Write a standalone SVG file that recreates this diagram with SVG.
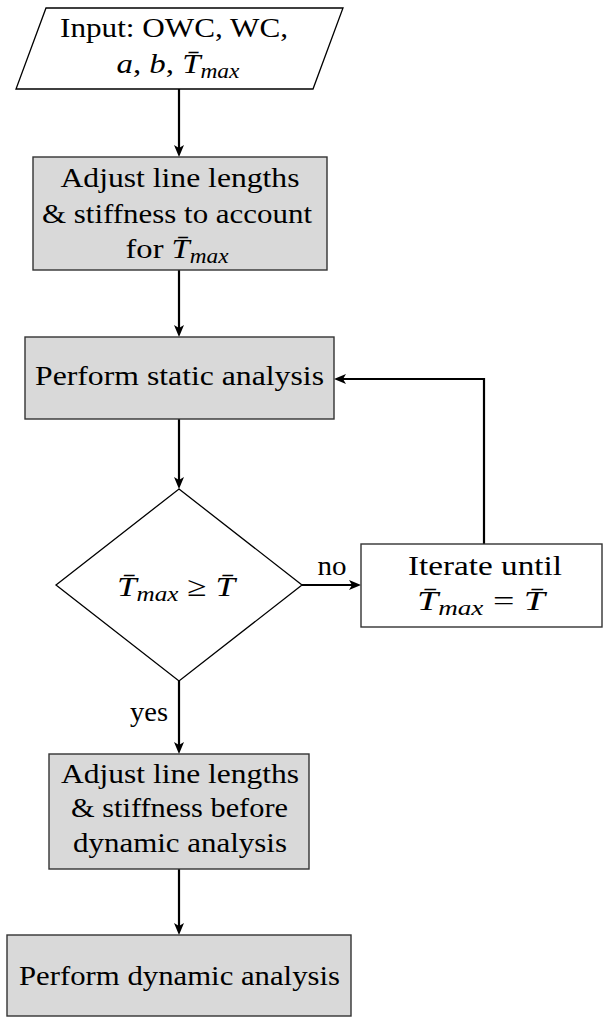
<svg xmlns="http://www.w3.org/2000/svg" width="603" height="1017" viewBox="0 0 603 1017">
<style>
.t{font-family:"Liberation Serif","DejaVu Serif","Times New Roman",serif;font-size:28px;fill:#000}
.i{font-style:italic}
.sub{font-style:italic;font-size:20px}
.box{fill:#d9d9d9;stroke:#333;stroke-width:1.4}
.wbox{fill:#fff;stroke:#333;stroke-width:1.4}
.conn{fill:none;stroke:#000;stroke-width:2.2}
</style>
<defs>
<marker id="ah" viewBox="0 0 12 12" refX="6" refY="6" markerWidth="12" markerHeight="12" markerUnits="userSpaceOnUse" orient="auto">
<path d="M0,1 L12,6 L0,11 L3,6 z" fill="#000"/>
</marker>
</defs>
<rect width="603" height="1017" fill="#fff"/>
<g id="connectors">
<path class="conn" d="M179,89 V151" marker-end="url(#ah)"/>
<path class="conn" d="M179,270 V331" marker-end="url(#ah)"/>
<path class="conn" d="M179,419 V483" marker-end="url(#ah)"/>
<path class="conn" d="M302,585 H355" marker-end="url(#ah)"/>
<path class="conn" d="M484,544 V379 H340" marker-end="url(#ah)"/>
<path class="conn" d="M179,681 V748" marker-end="url(#ah)"/>
<path class="conn" d="M179,869 V929" marker-end="url(#ah)"/>
<text class="t" x="332" y="575" text-anchor="middle" textLength="29" lengthAdjust="spacingAndGlyphs">no</text>
<text class="t" x="168" y="721" text-anchor="end" textLength="38" lengthAdjust="spacingAndGlyphs">yes</text>
</g>
<g id="input">
<polygon points="46,8 343,8 313,89 16,89" fill="#fff" stroke="#000" stroke-width="1.3"/>
<text class="t" x="174" y="37" text-anchor="middle" textLength="228" lengthAdjust="spacingAndGlyphs">Input: OWC, WC,</text>
<text class="t" x="178" y="73" text-anchor="middle" textLength="123" lengthAdjust="spacingAndGlyphs"><tspan class="i">a</tspan>, <tspan class="i">b</tspan>, <tspan class="i">T&#x304;</tspan><tspan class="sub" dy="5">max</tspan></text>
</g>
<g id="adjust1">
<rect class="box" x="33" y="157" width="294" height="113"/>
<text class="t" x="180" y="187" text-anchor="middle" textLength="239" lengthAdjust="spacingAndGlyphs">Adjust line lengths</text>
<text class="t" x="177" y="223" text-anchor="middle" textLength="270" lengthAdjust="spacingAndGlyphs">&amp; stiffness to account</text>
<text class="t" x="177" y="258" text-anchor="middle" textLength="103" lengthAdjust="spacingAndGlyphs">for <tspan class="i">T&#x304;</tspan><tspan class="sub" dy="5">max</tspan></text>
</g>
<g id="static">
<rect class="box" x="25" y="337" width="309" height="82"/>
<text class="t" x="179.5" y="385" text-anchor="middle" textLength="289" lengthAdjust="spacingAndGlyphs">Perform static analysis</text>
</g>
<g id="decision">
<polygon points="179,489 302,585 179,681 56,585" fill="#fff" stroke="#000" stroke-width="1.3"/>
<text class="t" x="176" y="596" text-anchor="middle" textLength="118" lengthAdjust="spacingAndGlyphs"><tspan class="i">T&#x304;</tspan><tspan class="sub" dy="5">max</tspan><tspan dy="-5"> ≥ </tspan><tspan class="i">T&#x304;</tspan></text>
</g>
<g id="iterate">
<rect class="wbox" x="361" y="544" width="241" height="83"/>
<text class="t" x="485" y="575" text-anchor="middle" textLength="154" lengthAdjust="spacingAndGlyphs">Iterate until</text>
<text class="t" x="481" y="610" text-anchor="middle" textLength="128" lengthAdjust="spacingAndGlyphs"><tspan class="i">T&#x304;</tspan><tspan class="sub" dy="5">max</tspan><tspan dy="-5"> = </tspan><tspan class="i">T&#x304;</tspan></text>
</g>
<g id="adjust2">
<rect class="box" x="49" y="754" width="260" height="115"/>
<text class="t" x="180" y="783" text-anchor="middle" textLength="238" lengthAdjust="spacingAndGlyphs">Adjust line lengths</text>
<text class="t" x="179.5" y="817" text-anchor="middle" textLength="217" lengthAdjust="spacingAndGlyphs">&amp; stiffness before</text>
<text class="t" x="180" y="852" text-anchor="middle" textLength="214" lengthAdjust="spacingAndGlyphs">dynamic analysis</text>
</g>
<g id="dynamic">
<rect class="box" x="7" y="935" width="344" height="81"/>
<text class="t" x="179.5" y="985" text-anchor="middle" textLength="321" lengthAdjust="spacingAndGlyphs">Perform dynamic analysis</text>
</g>
</svg>
